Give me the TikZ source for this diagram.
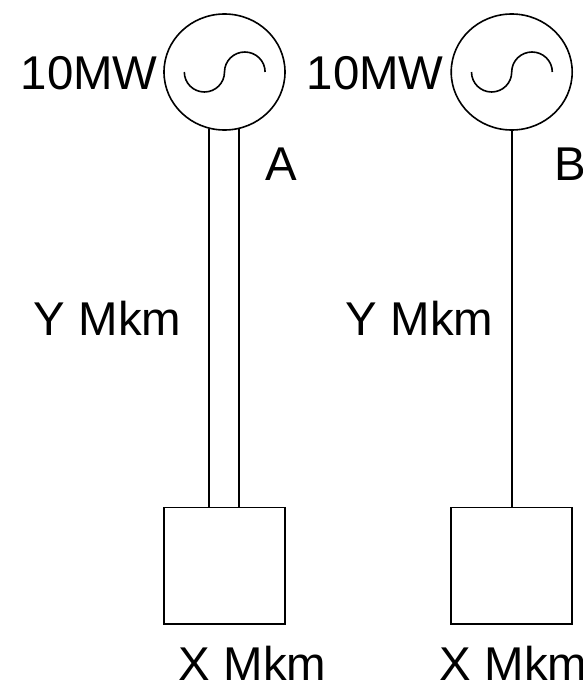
\documentclass[tikz,border=0pt]{standalone}
\usepackage{fontspec}
\setmainfont{Liberation Sans}
\usetikzlibrary{shapes.geometric}
\tikzset{
	gerador/.style={draw,ellipse,minimum width=121pt,minimum height=116pt,inner sep=0pt},
	carga/.style={draw,rectangle,minimum width=121pt,minimum height=116.5pt,inner sep=0pt},
	rotulo/.style={anchor=base west,inner sep=0pt,font=\fontsize{47.4}{48}\selectfont}
}
\begin{document}
\begin{tikzpicture}[x=1pt,y=-1pt,line width=1.6pt]
		\useasboundingbox (0,0) rectangle (583,680);
		
		% Geradores e cargas
		\node[gerador] (genA) at (224.5,72) {};
		\node[gerador] (genB) at (511.7,72) {};
		\node[carga] (loadA) at (224.5,565.8) {};
		\node[carga] (loadB) at (511.7,565.8) {};
		
		% Senoide dentro dos geradores
		\draw (184.3,72) arc (180:360:20.1 and -20) arc (180:0:20.3 and -20);
		\draw (471.5,72) arc (180:360:20.1 and -20) arc (180:0:20.3 and -20);
		
		% Linhas
		\draw (genA.255.06) -- (genA.255.06 |- loadA.north);
		\draw (genA.284.94) -- (genA.284.94 |- loadA.north);
		\draw (genB.south) -- (loadB.north);
		
		% Adicionar labels
		\node[rotulo] (potA) at (20,89.5) {10MW};
		\node[rotulo] (potB) at (306,89.5) {10MW};
		\node[rotulo] (nomeA) at (265,180) {A};
		\node[rotulo] (nomeB) at (554,180) {B};
		\node[rotulo] (compA) at (33,335) {Y Mkm};
		\node[rotulo] (compB) at (345,335) {Y Mkm};
		\node[rotulo] (areaA) at (178,680) {X Mkm};
		\node[rotulo] (areaB) at (439,680) {X Mkm};
		
	\end{tikzpicture}
\end{document}
